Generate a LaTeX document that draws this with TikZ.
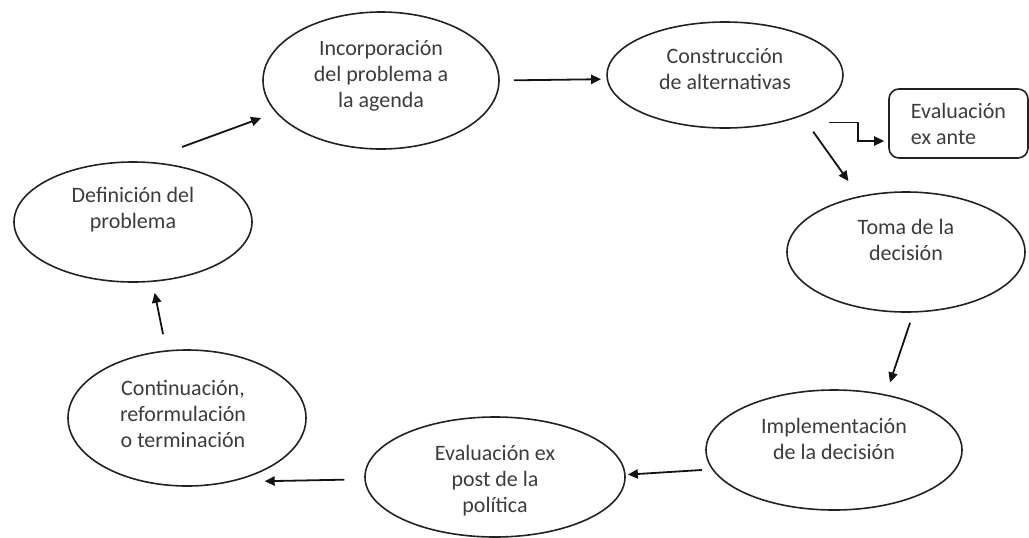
\documentclass[tikz,border=0pt]{standalone}
\usepackage{fontspec}
\setmainfont{Carlito}
\usepackage{tikz}
\usetikzlibrary{shapes.geometric,arrows.meta}

\begin{document}
\begin{tikzpicture}[x=0.5pt,y=0.5pt,yscale=-1,xscale=1,
  stage/.style={ellipse,draw={rgb, 255:red, 34; green, 34; blue, 34 },line width=0.8pt,inner sep=0pt},
  txt/.style={align=center,inner sep=0.75pt,font=\fontsize{11}{13}\selectfont,text={rgb, 255:red, 60; green, 60; blue, 60 }},
  arr/.style={draw={rgb, 255:red, 20; green, 20; blue, 20 },line width=0.9pt,-{Triangle[length=5pt,width=4.6pt]}}]
  \useasboundingbox (0,0) rectangle (1029,537);

  %Shape: Ellipse [id:def]
  \node [stage,minimum width=119pt,minimum height=60pt] (def) at (133,222) {};
  %Shape: Ellipse [id:inc]
  \node [stage,minimum width=118pt,minimum height=68.5pt] (inc) at (381,80.5) {};
  %Shape: Ellipse [id:con]
  \node [stage,minimum width=118pt,minimum height=53pt] (con) at (725,75) {};
  %Shape: Ellipse [id:toma]
  \node [stage,minimum width=119pt,minimum height=60pt] (toma) at (906,252) {};
  %Shape: Ellipse [id:impl]
  \node [stage,minimum width=128pt,minimum height=60pt] (impl) at (834,450) {};
  %Shape: Ellipse [id:evpost]
  \node [stage,minimum width=130pt,minimum height=60pt] (evpost) at (495,477) {};
  %Shape: Ellipse [id:cont]
  \node [stage,minimum width=119pt,minimum height=68pt] (cont) at (187,418) {};
  %Shape: Rounded Rectangle [id:exante]
  \node [draw={rgb, 255:red, 34; green, 34; blue, 34 },line width=0.8pt,rounded corners=5pt,minimum width=69.5pt,minimum height=34.5pt,txt,align=left] (exante) at (958.5,123.5) {Evaluación\\ex ante};

  % Text Node
  \node [txt] (def-t) at ([shift={(0,-12)}]def.center) {Definición del\\problema};
  % Text Node
  \node [txt] (inc-t) at ([shift={(0,-4.5)}]inc.center) {Incorporación\\del problema a\\la agenda};
  % Text Node
  \node [txt] (con-t) at ([shift={(0,-5.5)}]con.center) {Construcción\\de alternativas};
  % Text Node
  \node [txt] (toma-t) at ([shift={(0,-12)}]toma.center) {Toma de la\\decisión};
  % Text Node
  \node [txt] (impl-t) at ([shift={(0,-11)}]impl.center) {Implementación\\de la decisión};
  % Text Node
  \node [txt] (evpost-t) at ([shift={(0,4)}]evpost.center) {Evaluación ex\\post de la\\política};
  % Text Node
  \node [txt] (cont-t) at ([shift={(-4,-4)}]cont.center) {Continuación,\\reformulación\\o terminación};

  %Straight Lines
  \draw [arr,shorten <=21pt,shorten >=7.8pt] (def.81) -- (inc.197.8);
  \draw [arr,shorten <=7pt,shorten >=2.75pt] (inc.0) -- (con.182.4);
  \draw [arr,shorten <=9.6pt,shorten >=9.2pt] (con.332.5) -- (toma.130.9);
  \draw [arr,shorten <=5.35pt,shorten >=6.3pt] (toma.277.1) -- (impl.47.3);
  \draw [arr,shorten <=5pt,shorten >=1.1pt] (impl.189.2) -- (evpost.1.7);
  \draw [arr,shorten <=10pt,shorten >=16.5pt] (evpost.181.8) -- (cont.305.4);
  \draw [arr,shorten <=8.2pt,shorten >=5.5pt] (cont.107.4) -- (def.288.7);
  %Elbow Line
  \draw [arr,shorten >=2pt] ([shift={(19.6,9.5)}]con.south east) -- ++(29,0) |- ([shift={(0,17.5)}]exante.west);

\end{tikzpicture}
\end{document}
